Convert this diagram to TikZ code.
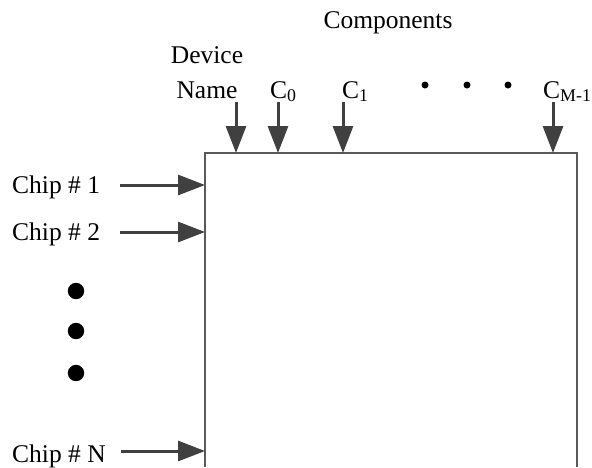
\documentclass[tikz,border=0pt]{standalone}
\usepackage{fontspec}
\setmainfont{Liberation Serif}
\usetikzlibrary{arrows.meta}
\begin{document}
\begin{tikzpicture}[x=1pt,y=-1pt,
  lbl/.style={inner sep=0pt,font=\fontsize{25.5}{30}\selectfont},
  feed/.style={draw=black!75,line width=3pt,-{Triangle[length=27pt,width=20pt]}},
  frame/.style={draw=black!65,line width=1.1pt},
  bigdot/.style={fill=black},
]
\useasboundingbox (0,0) rectangle (592,467);

% open-bottom block
\coordinate (bl) at (205,467);
\coordinate (tl) at (205,153);
\coordinate (tr) at (577,153);
\coordinate (br) at (577,467);
\draw[frame] (bl) -- (tl) -- (tr) -- (br);

% column headings
\node[lbl,anchor=base] (comp) at (388,28) {Components};
\node[lbl,anchor=base] (dev1) at (207,63) {Device};
\node[lbl,anchor=base] (dev2) at (207,98) {Name};
\node[lbl,anchor=base west] (c0) at (270,98) {C\textsubscript{0}};
\node[lbl,anchor=base west] (c1) at (342,98) {C\textsubscript{1}};
\node[lbl,anchor=base west] (cm) at (543,98) {C\textsubscript{M-1}};
\foreach \x in {425,467,508} \fill (\x,85) circle (3.5pt);

% column inputs
\coordinate (sDev) at (236,102);  \coordinate (eDev) at (236,153);
\coordinate (sC0)  at (278,102);  \coordinate (eC0)  at (278,153);
\coordinate (sC1)  at (343,102);  \coordinate (eC1)  at (343,153);
\coordinate (sCm)  at (553,102);  \coordinate (eCm)  at (553,153);
\draw[feed] (sDev) -- (eDev);
\draw[feed] (sC0) -- (eC0);
\draw[feed] (sC1) -- (eC1);
\draw[feed] (sCm) -- (eCm);

% row headings
\node[lbl,anchor=base west] (chip1) at (12,193) {Chip \# 1};
\node[lbl,anchor=base west] (chip2) at (12,240) {Chip \# 2};
\node[lbl,anchor=base west] (chipN) at (12,462) {Chip \# N};
\foreach \y in {291,331,373} \fill[bigdot] (76,\y) circle (8.2pt);

% row inputs
\coordinate (sR1) at (120,185);  \coordinate (eR1) at (205,185);
\coordinate (sR2) at (120,232);  \coordinate (eR2) at (205,232);
\coordinate (sRN) at (121,451);  \coordinate (eRN) at (205,451);
\draw[feed] (sR1) -- (eR1);
\draw[feed] (sR2) -- (eR2);
\draw[feed] (sRN) -- (eRN);
\end{tikzpicture}
\end{document}
